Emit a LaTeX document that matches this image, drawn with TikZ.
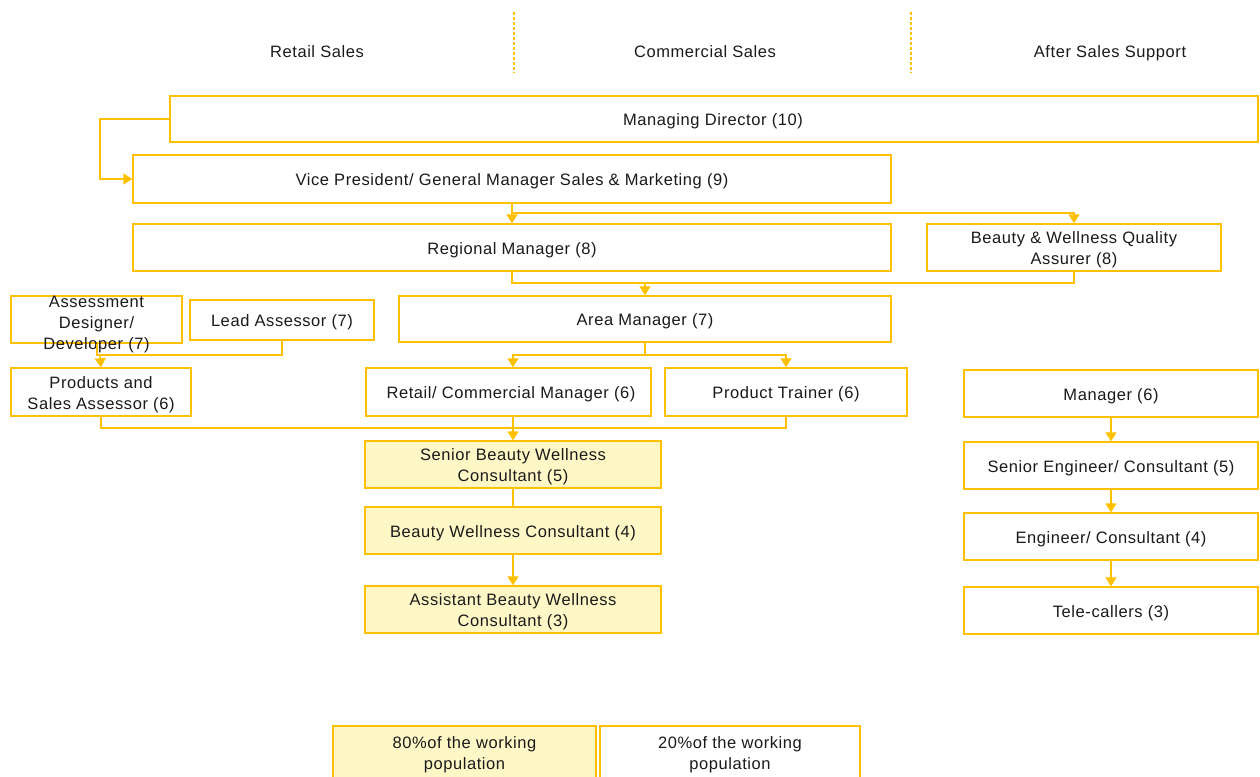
\documentclass[tikz,border=0pt]{standalone}
\usepackage{fontspec}
\setmainfont{Liberation Sans}[LetterSpace=3.5]
\usetikzlibrary{arrows.meta,calc}
\definecolor{gold}{HTML}{FFC000}
\definecolor{paleyellow}{HTML}{FFF8C6}
\definecolor{inktext}{HTML}{1A1A1A}
\tikzset{
  box/.style={draw=gold, line width=1.4pt, fill=white, inner sep=0pt, text=inktext},
  ybox/.style={box, fill=paleyellow},
  lbl/.style={text=inktext, align=center, inner sep=0pt, yshift=-2.5pt, font=\fontsize{16.5}{21}\selectfont},
  hdr/.style={text=inktext, inner sep=0pt, anchor=base, font=\fontsize{16.5}{21}\selectfont},
  conn/.style={draw=gold, line width=1.5pt},
  arr/.style={conn, -{Triangle[width=11pt,length=9pt]}},
  divider/.style={draw=gold, line width=1.2pt, dash pattern=on 3pt off 2pt},
}
\begin{document}
\begin{tikzpicture}[x=1pt,y=-1pt]
\useasboundingbox (0,0) rectangle (1260,776);
\clip (0,0) rectangle (1260,776);
% headers
\node[hdr] (h1) at (317,57.5) {Retail Sales};
\node[hdr] (h2) at (705,57.5) {Commercial Sales};
\node[hdr] (h3) at (1110,57.5) {After Sales Support};
\coordinate (d1a) at (514,12); \coordinate (d1b) at (514,73);
\coordinate (d2a) at (911,12); \coordinate (d2b) at (911,73);
\draw[divider] (d1a) -- (d1b);
\draw[divider] (d2a) -- (d2b);
% boxes
\node[box, minimum width=1088, minimum height=46] (md) at (714,119) {};
\node[lbl] at (713,119) {Managing Director (10)};
\node[box, minimum width=758, minimum height=48] (vp) at (512,179) {};
\node[lbl] at (vp.center) {Vice President/ General Manager Sales \& Marketing (9)};
\node[box, minimum width=758, minimum height=47] (rm) at (512,247.5) {};
\node[lbl] at (rm.center) {Regional Manager (8)};
\node[box, minimum width=294, minimum height=47] (bw) at (1074,247.5) {};
\node[lbl] at (bw.center) {Beauty \& Wellness Quality\\Assurer (8)};
\node[box, minimum width=171, minimum height=47] (ad) at (96.5,319.5) {};
\node[lbl] at (96.5,322) {Assessment\\Designer/\\Developer (7)};
\node[box, minimum width=184, minimum height=40] (la) at (282,320) {};
\node[lbl] at (la.center) {Lead Assessor (7)};
\node[box, minimum width=492, minimum height=46] (am) at (645,319) {};
\node[lbl] at (am.center) {Area Manager (7)};
\node[box, minimum width=180, minimum height=48] (ps) at (101,392) {};
\node[lbl] at (ps.center) {Products and\\Sales Assessor (6)};
\node[box, minimum width=285, minimum height=48] (rc) at (508.5,392) {};
\node[lbl] at (511,392) {Retail/ Commercial Manager (6)};
\node[box, minimum width=242, minimum height=48] (pt) at (786,392) {};
\node[lbl] at (pt.center) {Product Trainer (6)};
\node[ybox, minimum width=296, minimum height=47] (sb) at (513,464.5) {};
\node[lbl] at (sb.center) {Senior Beauty Wellness\\Consultant (5)};
\node[ybox, minimum width=296, minimum height=47] (bc) at (513,530.5) {};
\node[lbl] at (bc.center) {Beauty Wellness Consultant (4)};
\node[ybox, minimum width=296, minimum height=47] (ab) at (513,609.5) {};
\node[lbl] at (ab.center) {Assistant Beauty Wellness\\Consultant (3)};
\node[box, minimum width=294, minimum height=47] (mg) at (1111,393.5) {};
\node[lbl] at (mg.center) {Manager (6)};
\node[box, minimum width=294, minimum height=47] (se) at (1111,465.5) {};
\node[lbl] at (se.center) {Senior Engineer/ Consultant (5)};
\node[box, minimum width=294, minimum height=47] (en) at (1111,536.5) {};
\node[lbl] at (en.center) {Engineer/ Consultant (4)};
\node[box, minimum width=294, minimum height=47] (tc) at (1111,610.5) {};
\node[lbl] at (tc.center) {Tele-callers (3)};
\node[ybox, minimum width=263, minimum height=74] (p80) at (464.5,763) {};
\node[lbl, anchor=north] at (464.5,734) {80\%of the working\\population};
\node[box, minimum width=260, minimum height=74] (p20) at (730,763) {};
\node[lbl, anchor=north] at (730,734) {20\%of the working\\population};
% connectors
\coordinate (c0) at (100,119);
\draw[arr] (md.west) -- (c0) |- (vp.west);
\coordinate (j1) at (512,213);
\draw[arr] (vp.south) -- (rm.north);
\draw[arr] (j1) -| (bw.north);
\coordinate (j2) at (645,283);
\draw[conn] (rm.south) |- (j2) -| (bw.south);
\draw[arr] (j2) -- (am.north);
\coordinate (j3) at (645,355);
\draw[conn] (am.south) -- (j3);
\draw[arr] (j3) -| ([xshift=4.5pt]rc.north);
\draw[arr] (j3) -| (pt.north);
\coordinate (j4) at (100,355);
\draw[conn] (la.south) |- (j4);
\draw[conn] ([xshift=0.5pt]ad.south) |- (j4);
\draw[arr] (j4) -- (ps.north);
\coordinate (j5) at (513,428);
\draw[conn] (ps.south) |- (j5) -| (pt.south);
\draw[arr] ([xshift=4.5pt]rc.south) -- (sb.north);
\draw[conn] (sb.south) -- (bc.north);
\draw[arr] (bc.south) -- (ab.north);
\draw[arr] (mg.south) -- (se.north);
\draw[arr] (se.south) -- (en.north);
\draw[arr] (en.south) -- (tc.north);
\end{tikzpicture}
\end{document}
